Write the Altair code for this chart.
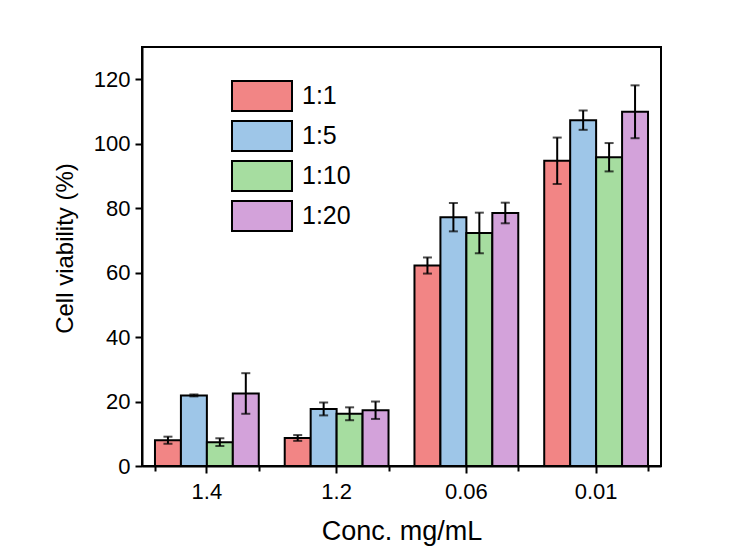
import altair as alt
import pandas as pd

categories = ["1.4", "1.2", "0.06", "0.01"]
series = ["1:1", "1:5", "1:10", "1:20"]
colors = ["#F28585", "#9EC6E8", "#A6DDA0", "#D3A2DA"]

vals_11 = [8.0, 8.7, 62.2, 94.7]
vals_15 = [21.9, 17.7, 77.2, 107.3]
vals_110 = [7.4, 16.2, 72.3, 95.8]
vals_120 = [22.5, 17.3, 78.5, 109.9]

err_11 = [1.1, 0.9, 2.5, 7.2]
err_15 = [0.3, 2.0, 4.4, 3.0]
err_110 = [1.2, 2.0, 6.3, 4.4]
err_120 = [6.3, 2.7, 3.2, 8.2]

all_vals = [vals_11, vals_15, vals_110, vals_120]
all_errs = [err_11, err_15, err_110, err_120]

rows = []
for s, vs, es in zip(series, all_vals, all_errs):
    for c, v, e in zip(categories, vs, es):
        rows.append({"conc": c, "ratio": s, "value": v, "lo": v - e, "hi": v + e})
df = pd.DataFrame(rows)

FONT = "Liberation Sans"
TICK_FS = 22

xscale = alt.Scale(domain=categories, paddingInner=0.2, paddingOuter=0.1)
xoff = alt.XOffset("ratio:N", sort=series, scale=alt.Scale(domain=series, paddingInner=0, paddingOuter=0))
yscale = alt.Scale(domain=[0, 130], nice=False, zero=True)

base = alt.Chart(df)

bars = base.mark_bar(stroke="black", strokeWidth=2, opacity=1).encode(
    x=alt.X("conc:N", sort=categories, scale=xscale,
            axis=alt.Axis(title="Conc. mg/mL", labelAngle=0, tickSize=7, labelPadding=8,
                          labelFontSize=TICK_FS, labelFont=FONT, labelColor="black",
                          titlePadding=16, titleFontSize=27, orient="bottom")),
    xOffset=xoff,
    y=alt.Y("value:Q", scale=yscale,
            axis=alt.Axis(title="Cell viability (%)",
                          values=list(range(0, 121, 10)),
                          labelExpr="datum.value % 20 == 0 ? datum.label : ''",
                          tickSize={"condition": {"test": "datum.value % 20 == 0", "value": 7}, "value": 4},
                          labelFontSize=TICK_FS, labelFont=FONT, labelColor="black",
                          labelPadding=5, titlePadding=16, titleFontSize=24, titleY=201)),
    color=alt.Color("ratio:N", sort=series, scale=alt.Scale(domain=series, range=colors),
                    legend=alt.Legend(title=None, orient="none", legendX=104, legendY=33,
                                      symbolType="M-2,-1H2V1H-2Z", symbolSize=900,
                                      symbolStrokeColor="black", symbolStrokeWidth=2,
                                      symbolOpacity=1, labelFontSize=25, labelOffset=24,
                                      rowPadding=2, padding=0, labelColor="black", labelFont=FONT)),
)

rules = base.mark_rule(color="black", strokeWidth=2).encode(
    x=alt.X("conc:N", sort=categories, scale=xscale, axis=None),
    xOffset=xoff,
    y=alt.Y("lo:Q", scale=yscale),
    y2="hi:Q",
)

caps_hi = base.mark_tick(color="black", thickness=2, size=9, orient="horizontal").encode(
    x=alt.X("conc:N", sort=categories, scale=xscale, axis=None),
    xOffset=xoff,
    y=alt.Y("hi:Q", scale=yscale),
)
caps_lo = base.mark_tick(color="black", thickness=2, size=9, orient="horizontal").encode(
    x=alt.X("conc:N", sort=categories, scale=xscale, axis=None),
    xOffset=xoff,
    y=alt.Y("lo:Q", scale=yscale),
)

minor = base.mark_tick(opacity=0).encode(
    x=alt.X("conc:N", sort=categories, scale=xscale,
            axis=alt.Axis(title=None, labels=False, domain=False, tickBand="extent",
                          tickSize=5, orient="bottom")),
    y=alt.Y("value:Q", scale=yscale),
)

chart = alt.layer(bars, rules, caps_hi, caps_lo, minor).resolve_axis(x="independent").properties(
    width=519, height=419,
    autosize=alt.AutoSizeParams(type="none"),
    padding={"left": 142, "top": 47, "right": 92, "bottom": 89},
    background="white",
).configure(font=FONT).configure_view(
    stroke="black", strokeWidth=2
).configure_axis(
    grid=False, domainColor="black", domainWidth=2, tickColor="black", tickWidth=2,
    labelColor="black", labelFontSize=TICK_FS, labelFont=FONT,
    titleColor="black", titleFontWeight="normal", titleFont=FONT,
)

chart.save("out.html", embed_options={"renderer": "svg", "actions": False})
